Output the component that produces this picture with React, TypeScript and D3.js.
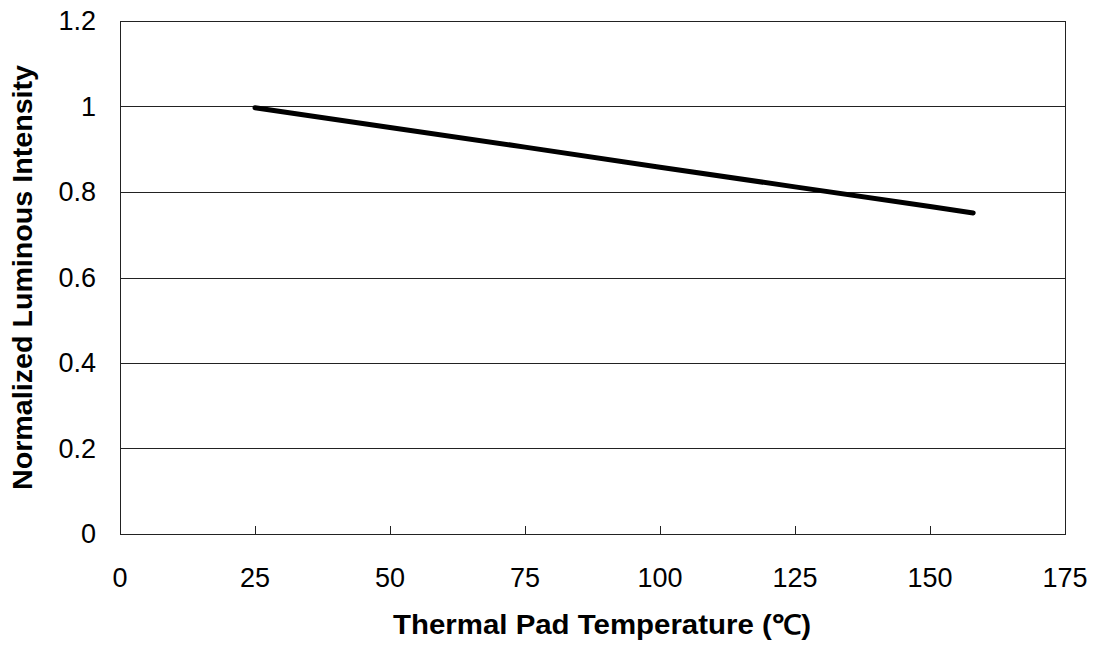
import { useEffect, useRef } from 'react';
import * as d3 from 'd3';

const temperatures = [25, 50, 75, 100, 125, 150, 158];
const intensity = [0.997, 0.951, 0.905, 0.858, 0.812, 0.766, 0.751];
const xTicks = [0, 25, 50, 75, 100, 125, 150, 175];
const yTicks = [0, 0.2, 0.4, 0.6, 0.8, 1, 1.2];

const width = 1101;
const height = 646;
const margin = { top: 21, right: 36, bottom: 112, left: 120 };
const font = '"Liberation Sans", Arial, sans-serif';

export default function App() {
  const svgRef = useRef<SVGSVGElement>(null);

  useEffect(() => {
    if (!svgRef.current) return;
    const svg = d3.select(svgRef.current);
    svg.selectAll('*').remove();

    const x = d3.scaleLinear().domain([0, 175]).range([margin.left, width - margin.right]);
    const y = d3.scaleLinear().domain([0, 1.2]).range([height - margin.bottom, margin.top]);

    // horizontal grid
    svg.append('g')
      .selectAll('line')
      .data(yTicks.slice(1))
      .enter()
      .append('line')
      .attr('x1', x(0))
      .attr('x2', x(175))
      .attr('y1', d => Math.round(y(d)) + 0.5)
      .attr('y2', d => Math.round(y(d)) + 0.5)
      .attr('stroke', '#222')
      .attr('stroke-width', 1);

    // frame
    svg.append('rect')
      .attr('x', x(0) + 0.5)
      .attr('y', Math.round(y(1.2)) + 0.5)
      .attr('width', x(175) - x(0))
      .attr('height', Math.round(y(0)) - Math.round(y(1.2)))
      .attr('fill', 'none')
      .attr('stroke', '#222')
      .attr('stroke-width', 1);

    // y ticks (inside)
    svg.append('g')
      .selectAll('line')
      .data(yTicks)
      .enter()
      .append('line')
      .attr('x1', x(0))
      .attr('x2', x(0) + 8)
      .attr('y1', d => Math.round(y(d)) + 0.5)
      .attr('y2', d => Math.round(y(d)) + 0.5)
      .attr('stroke', '#222');

    // x ticks (inside)
    svg.append('g')
      .selectAll('line')
      .data(xTicks)
      .enter()
      .append('line')
      .attr('x1', d => Math.round(x(d)) + 0.5)
      .attr('x2', d => Math.round(x(d)) + 0.5)
      .attr('y1', y(0))
      .attr('y2', y(0) - 8)
      .attr('stroke', '#222');

    svg.append('g')
      .selectAll('text')
      .data(yTicks)
      .enter()
      .append('text')
      .attr('x', x(0) - 24)
      .attr('y', d => y(d))
      .attr('dy', '0.35em')
      .attr('text-anchor', 'end')
      .attr('font-family', font)
      .attr('font-size', 27)
      .text(d => String(d));

    svg.append('g')
      .selectAll('text')
      .data(xTicks)
      .enter()
      .append('text')
      .attr('x', d => x(d))
      .attr('y', 587)
      .attr('text-anchor', 'middle')
      .attr('font-family', font)
      .attr('font-size', 27)
      .text(d => String(d));

    const line = d3.line<number>()
      .x((_, i) => x(temperatures[i]))
      .y(d => y(d));

    svg.append('path')
      .datum(intensity)
      .attr('d', line)
      .attr('fill', 'none')
      .attr('stroke', '#000')
      .attr('stroke-width', 5)
      .attr('stroke-linecap', 'round');

    svg.append('text')
      .attr('x', 602)
      .attr('y', 634)
      .attr('text-anchor', 'middle')
      .attr('font-family', font)
      .attr('font-weight', 'bold')
      .attr('font-size', 27)
      .attr('textLength', 418)
      .attr('lengthAdjust', 'spacingAndGlyphs')
      .text('Thermal Pad Temperature (℃)');

    svg.append('text')
      .attr('transform', `translate(32, ${(y(0) + y(1.2)) / 2}) rotate(-90)`)
      .attr('text-anchor', 'middle')
      .attr('font-family', font)
      .attr('font-weight', 'bold')
      .attr('font-size', 27)
      .attr('textLength', 425)
      .attr('lengthAdjust', 'spacingAndGlyphs')
      .text('Normalized Luminous Intensity');
  }, []);

  return (
    <div style={{ position: 'absolute', left: 0, top: 0, width, height, background: '#fff' }}>
      <svg ref={svgRef} width={width} height={height}></svg>
    </div>
  );
}
